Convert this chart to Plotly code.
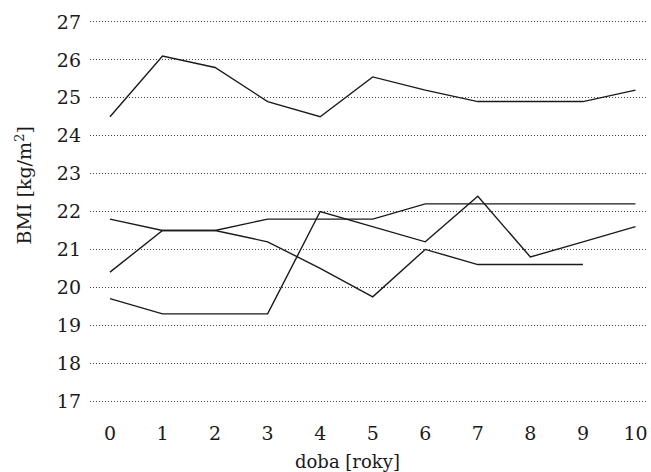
import plotly.graph_objects as go

years = list(range(11))
series_a = [24.5, 26.1, 25.8, 24.9, 24.5, 25.55, 25.2, 24.9, 24.9, 24.9, 25.2]
series_b = [21.8, 21.5, 21.5, 21.2, 20.5, 19.75, 21.0, 20.6, 20.6, 20.6]
series_c = [20.4, 21.5, 21.5, 21.8, 21.8, 21.8, 22.2, 22.2, 22.2, 22.2, 22.2]
series_d = [19.7, 19.3, 19.3, 19.3, 22.0, 21.6, 21.2, 22.4, 20.8, 21.2, 21.6]
y_ticks = list(range(17, 28))

FONT = "DejaVu Serif"
fig = go.Figure()
for s in [series_a, series_b, series_c, series_d]:
    fig.add_trace(go.Scatter(x=years[:len(s)], y=s, mode="lines",
                             line=dict(color="#1a1a1a", width=1.4),
                             showlegend=False, hoverinfo="skip"))

fig.update_layout(
    width=651, height=472,
    margin=dict(l=90, r=5, t=3, b=52, autoexpand=False),
    paper_bgcolor="white", plot_bgcolor="white",
    font=dict(family=FONT, color="#1a1a1a"),
    annotations=[
        dict(text="doba [roky]", xref="paper", yref="paper", x=0.5, y=0,
             xshift=-21, yshift=-41,
             xanchor="center", yanchor="middle", showarrow=False,
             font=dict(size=18, family=FONT)),
        dict(text="BMI [kg/m<sup>2</sup>]", xref="paper", yref="paper", x=0, y=0.5,
             xshift=-67, yshift=26, textangle=-90,
             xanchor="center", yanchor="middle", showarrow=False,
             font=dict(size=19, family=FONT)),
    ],
)
fig.update_xaxes(
    range=[-0.38, 10.2], tickvals=years, showgrid=False, zeroline=False,
    showline=False, ticks="", automargin=False, ticklabeloverflow="allow",
    tickfont=dict(size=19, family=FONT),
)
fig.update_yaxes(
    range=[16.5, 27.5], tickvals=y_ticks, showgrid=True, gridcolor="#444",
    griddash="1px,2px", gridwidth=1, zeroline=False, showline=False,
    ticks="", ticklabelstandoff=8, automargin=False,
    tickfont=dict(size=19, family=FONT),
)
fig.write_html("out.html", config={"displayModeBar": False},
               post_script="document.body.style.margin='0';document.body.style.overflow='hidden';")
